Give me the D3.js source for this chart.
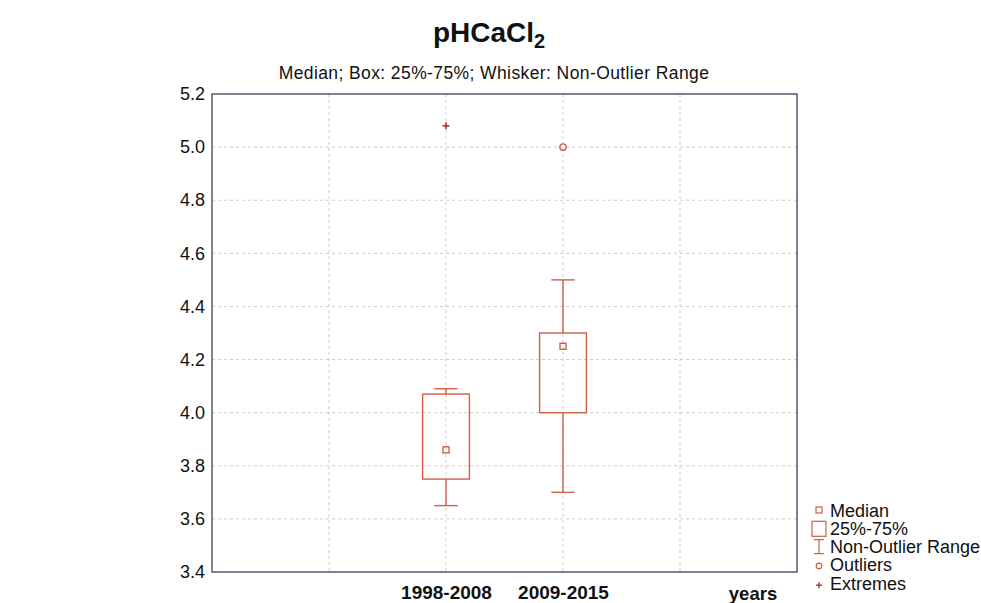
<!DOCTYPE html>
<html><head><meta charset="utf-8">
<script src="https://cdn.jsdelivr.net/npm/d3@7"></script>
<style>body{margin:0;background:#fff}svg{display:block;font-family:"Liberation Sans",Arial,sans-serif}</style>
</head><body><svg id="c" width="981" height="603"></svg>
<script>
const categories = ["1998-2008", "2009-2015"];
const xSlots = ["s0", "s1", "1998-2008", "2009-2015", "s4", "s5"];
const q1 = [3.75, 4.00];
const q3 = [4.07, 4.30];
const medians = [3.86, 4.25];
const whiskerLow = [3.65, 3.70];
const whiskerHigh = [4.09, 4.50];
const outliers = [[], [5.00]];
const extremes = [[5.08], []];
const yTicks = [3.4, 3.6, 3.8, 4.0, 4.2, 4.4, 4.6, 4.8, 5.0, 5.2];
const legendItems = ["Median", "25%-75%", "Non-Outlier Range", "Outliers", "Extremes"];

const svg = d3.select("#c");
const L = 212, R = 797, T = 94, B = 572;
const x = d3.scalePoint().domain(xSlots).range([L, R]);
const y = d3.scaleLinear().domain([3.4, 5.2]).range([B, T]);
const step = x.step();
const boxC = "#cf5f45", extC = "#b0302a", frameC = "#3f3d5c";

// grid
const g = svg.append("g").attr("stroke", "#cccccc").attr("stroke-dasharray", "3,3").attr("stroke-width", 1);
yTicks.slice(1, -1).forEach(v => g.append("line").attr("x1", L).attr("x2", R).attr("y1", y(v)).attr("y2", y(v)));
xSlots.slice(1, -1).forEach(s => g.append("line").attr("x1", x(s)).attr("x2", x(s)).attr("y1", T).attr("y2", B));

// y axis
const ya = svg.append("g").attr("transform", `translate(${L},0)`)
  .call(d3.axisLeft(y).tickValues(yTicks).tickFormat(d3.format(".1f")).tickSize(0).tickPadding(7));
ya.select(".domain").remove();
ya.selectAll("text").attr("font-size", 18).attr("fill", "#111").attr("font-family", "Liberation Sans, Arial, sans-serif");

// frame
svg.append("rect").attr("x", L).attr("y", T).attr("width", R - L).attr("height", B - T)
  .attr("fill", "none").attr("stroke", frameC).attr("stroke-width", 1.3);

// x labels
const xa = svg.append("g").attr("transform", `translate(0,${B})`)
  .call(d3.axisBottom(x).tickValues(categories).tickSize(0).tickPadding(0));
xa.select(".domain").remove();
xa.selectAll("text").attr("dy", null).attr("y", 27).attr("font-size", 19).attr("font-weight", "bold").attr("fill", "#111")
  .attr("font-family", "Liberation Sans, Arial, sans-serif");
svg.append("text").attr("x", 753).attr("y", 600).attr("text-anchor", "middle")
  .attr("font-size", 18.5).attr("font-weight", "bold").attr("fill", "#111").text("years");

// boxes
const bw = step * 0.4, cw = step * 0.2;
categories.forEach((c, i) => {
  const cx = x(c);
  const bx = svg.append("g").attr("stroke", boxC).attr("fill", "none").attr("stroke-width", 1.4);
  bx.append("line").attr("x1", cx).attr("x2", cx).attr("y1", y(whiskerHigh[i])).attr("y2", y(q3[i]));
  bx.append("line").attr("x1", cx).attr("x2", cx).attr("y1", y(q1[i])).attr("y2", y(whiskerLow[i]));
  bx.append("line").attr("x1", cx - cw / 2).attr("x2", cx + cw / 2).attr("y1", y(whiskerHigh[i])).attr("y2", y(whiskerHigh[i]));
  bx.append("line").attr("x1", cx - cw / 2).attr("x2", cx + cw / 2).attr("y1", y(whiskerLow[i])).attr("y2", y(whiskerLow[i]));
  bx.append("rect").attr("x", cx - bw / 2).attr("y", y(q3[i])).attr("width", bw).attr("height", y(q1[i]) - y(q3[i]));
  bx.append("rect").attr("x", cx - 3).attr("y", y(medians[i]) - 3).attr("width", 6).attr("height", 6);
  outliers[i].forEach(v => bx.append("circle").attr("cx", cx).attr("cy", y(v)).attr("r", 3.2));
  extremes[i].forEach(v => {
    const e = svg.append("g").attr("stroke", extC).attr("stroke-width", 1.6);
    e.append("line").attr("x1", cx - 3.5).attr("x2", cx + 3.5).attr("y1", y(v)).attr("y2", y(v));
    e.append("line").attr("x1", cx).attr("x2", cx).attr("y1", y(v) - 3.5).attr("y2", y(v) + 3.5);
  });
});

// title
const t = svg.append("text").attr("x", 489).attr("y", 42).attr("text-anchor", "middle")
  .attr("font-size", 28).attr("font-weight", "bold").attr("fill", "#111");
t.append("tspan").text("pHCaCl");
t.append("tspan").attr("font-size", 20).attr("dy", 6).text("2");
svg.append("text").attr("x", 494).attr("y", 79).attr("text-anchor", "middle")
  .attr("font-size", 17.5).attr("letter-spacing", 0.4).attr("fill", "#111").text("Median; Box: 25%-75%; Whisker: Non-Outlier Range");

// legend
const lg = svg.append("g").attr("font-size", 18).attr("fill", "#111");
legendItems.forEach((s, i) => {
  const yy = 510 + i * 18.3;
  lg.append("text").attr("x", 830).attr("y", yy + 6.5).text(s);
  const sx = 819;
  if (i === 0) lg.append("rect").attr("x", sx - 3).attr("y", yy - 3).attr("width", 6).attr("height", 6).attr("fill", "none").attr("stroke", boxC).attr("stroke-width", 1.2);
  if (i === 1) lg.append("rect").attr("x", sx - 7).attr("y", yy - 7).attr("width", 14).attr("height", 15).attr("fill", "none").attr("stroke", boxC).attr("stroke-width", 1.2);
  if (i === 2) { const w = lg.append("g").attr("stroke", boxC).attr("stroke-width", 1.2);
    w.append("line").attr("x1", sx - 5).attr("x2", sx + 5).attr("y1", yy - 7).attr("y2", yy - 7);
    w.append("line").attr("x1", sx - 5).attr("x2", sx + 5).attr("y1", yy + 7).attr("y2", yy + 7);
    w.append("line").attr("x1", sx).attr("x2", sx).attr("y1", yy - 7).attr("y2", yy + 7); }
  if (i === 3) lg.append("circle").attr("cx", sx).attr("cy", yy + 1).attr("r", 2.8).attr("fill", "none").attr("stroke", boxC).attr("stroke-width", 1.2);
  if (i === 4) { const e = lg.append("g").attr("stroke", extC).attr("stroke-width", 1.4);
    e.append("line").attr("x1", sx - 3).attr("x2", sx + 3).attr("y1", yy + 2).attr("y2", yy + 2);
    e.append("line").attr("x1", sx).attr("x2", sx).attr("y1", yy - 1).attr("y2", yy + 5); }
});
</script></body></html>
